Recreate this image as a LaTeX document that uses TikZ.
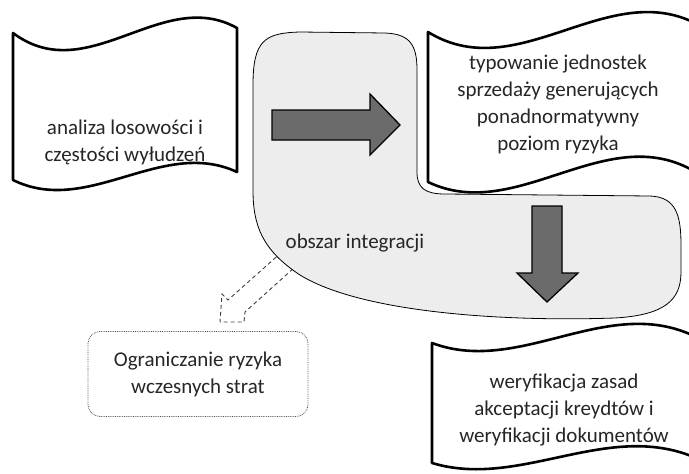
\documentclass[tikz,border=0pt]{standalone}
\usepackage{fontspec}
\setmainfont{Carlito}
\usepackage{tikz}
\usetikzlibrary{arrows.meta}

\tikzset{
    banner/.style={draw=black, line width=2.6pt, fill=white, line join=round},
    region/.style={draw=black, line width=0.8pt, fill=black!7},
    block arrow/.style={draw=black, line width=1.3pt, fill=black!58},
    dashed arrow/.style={draw=black!75, line width=0.9pt, dash pattern=on 4pt off 3pt},
    wave text/.style={text=black!85, font=\fontsize{21}{27}\selectfont, align=center, inner sep=0pt},
}

\begin{document}
\begin{tikzpicture}[x=1pt, y=-1pt]
    \useasboundingbox (0,0) rectangle (689,474);
    \clip (0,0) rectangle (689,474);

    % dashed arrow, its base hidden under the region
    \draw[dashed arrow] (292,243) -- (228,300) -- (222,294) -- (220,322) -- (244,322) -- (245,312) -- (305,258);

    % integration region
    \draw[region] (253,85) .. controls (253,40) and (265,33) .. (300,32)
        -- (385,33) .. controls (410,34) and (417,45) .. (417,70)
        -- (417,172) .. controls (417,188) and (425,194) .. (445,194)
        -- (650,196) .. controls (676,197) and (681,215) .. (681,245)
        -- (681,272) .. controls (681,300) and (665,315) .. (615,318)
        .. controls (500,322) and (360,312) .. (300,275)
        .. controls (262,250) and (253,225) .. (253,190) -- cycle;

    % wave banners
    \draw[banner] (13,33) .. controls (88,89) and (162,-14) .. (237,28) -- (237,172)
        .. controls (162,137) and (88,217) .. (13,180) -- cycle;
    \draw[banner] (428,32) .. controls (522,90) and (616,-34) .. (710,32) -- (710,182)
        .. controls (616,107) and (522,227) .. (428,182) -- cycle;
    \draw[banner] (432,343) .. controls (525,378) and (617,284) .. (710,345) -- (710,465)
        .. controls (617,412) and (525,491) .. (432,463) -- cycle;

    % block arrows
    \draw[block arrow] (272,110) -- (370,110) -- (370,94) -- (400,125) -- (370,155) -- (370,140) -- (272,140) -- cycle;
    \draw[block arrow] (532,206) -- (562,206) -- (562,273) -- (578,273) -- (547,302) -- (517,273) -- (532,273) -- cycle;

    \node[wave text] at (125,142) (analysis) {analiza losowości i\\częstości wyłudzeń};
    \node[wave text] at (558,104) (typing) {typowanie jednostek\\sprzedaży generujących\\ponadnormatywny\\poziom ryzyka};
    \node[wave text] at (564,410) (verification) {weryfikacja zasad\\akceptacji kreydtów i\\weryfikacji dokumentów};
    \node[wave text] at (355,243) (area) {obszar integracji};
    \node[wave text, draw=black!70, line width=0.8pt, densely dotted, rounded corners=12pt,
          minimum width=220pt, minimum height=85pt] at (198,374) (losses) {Ograniczanie ryzyka\\wczesnych strat};
\end{tikzpicture}
\end{document}
